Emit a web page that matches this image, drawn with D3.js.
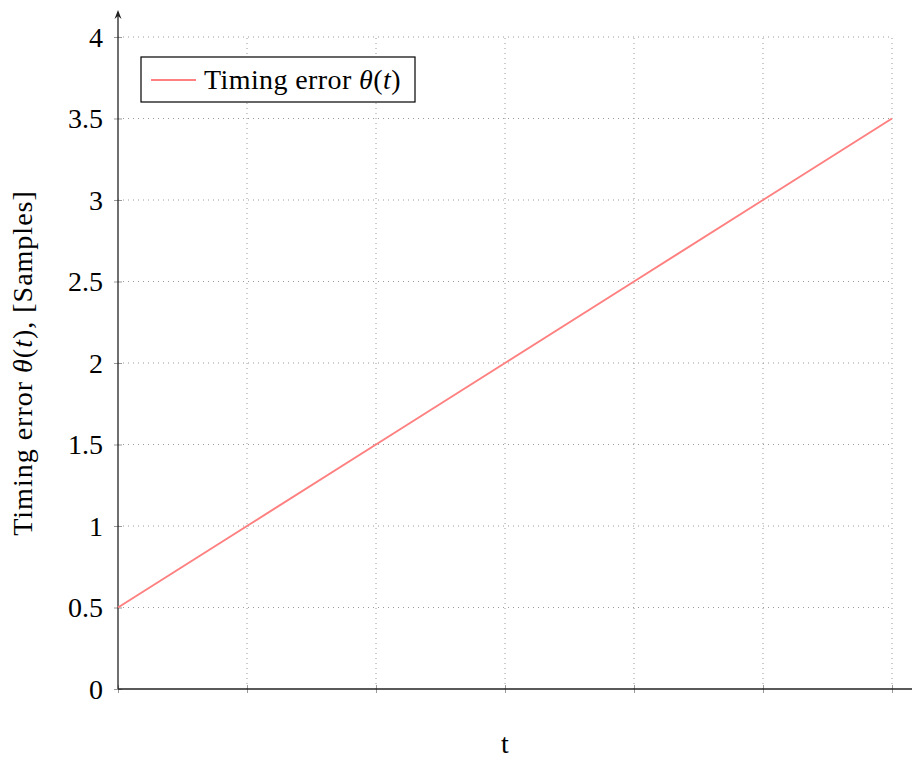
<!DOCTYPE html>
<html>
<head>
<meta charset="utf-8">
<script src="https://cdn.jsdelivr.net/npm/d3@7"></script>
<style>
  html, body { margin: 0; padding: 0; background: #fff; }
  svg text { font-family: "Liberation Serif", "Times New Roman", serif; fill: #000; }
</style>
</head>
<body>
<svg id="chart" width="912" height="760"></svg>
<script>
// Timing error samples over t
const tValues = [0, 1, 2, 3, 4, 5, 6];
const thetaValues = [0.5, 1.0, 1.5, 2.0, 2.5, 3.0, 3.5];
const yTicks = [0, 0.5, 1, 1.5, 2, 2.5, 3, 3.5, 4];
const yTickLabels = ["0", "0.5", "1", "1.5", "2", "2.5", "3", "3.5", "4"];
const seriesName = "Timing error ";

(function () {
const svg = d3.select("#chart");
const plotLeft = 118, plotRight = 892, plotTop = 37, plotBottom = 689;
const fontSize = 28;

const x = d3.scaleLinear().domain([0, 6]).range([plotLeft, plotRight]);
const y = d3.scaleLinear().domain([0, 4]).range([plotBottom, plotTop]);

// Dotted grid
const grid = svg.append("g").attr("stroke", "#9a9a9a").attr("stroke-width", 1)
  .attr("stroke-dasharray", "1,4").attr("fill", "none");
tValues.slice(1).forEach(v => {
  grid.append("line").attr("x1", x(v)).attr("x2", x(v)).attr("y1", plotBottom).attr("y2", plotTop);
});
yTicks.slice(1).forEach(v => {
  grid.append("line").attr("x1", plotLeft).attr("x2", plotRight).attr("y1", y(v)).attr("y2", y(v));
});

// Axes (labels drawn separately)
const xAxis = d3.axisBottom(x).tickValues(tValues).tickSize(4).tickFormat("");
const xg = svg.append("g").attr("transform", `translate(0,${plotBottom})`).call(xAxis);
xg.select(".domain").remove();
xg.selectAll(".tick line").attr("stroke", "#999").attr("y1", -4).attr("y2", 4);

const yAxis = d3.axisLeft(y).tickValues(yTicks).tickSize(4)
  .tickFormat((d, i) => yTickLabels[i]).tickPadding(10);
const yg = svg.append("g").attr("transform", `translate(${plotLeft},0)`).call(yAxis);
yg.select(".domain").remove();
yg.selectAll(".tick line").attr("stroke", "#999").attr("x1", -4).attr("x2", 4);
yg.selectAll(".tick text").attr("font-size", fontSize)
  .attr("dy", "0.33em").attr("x", -15);

// Axis lines
svg.append("line").attr("x1", plotLeft).attr("x2", 912).attr("y1", plotBottom).attr("y2", plotBottom)
  .attr("stroke", "#222").attr("stroke-width", 1.3);
svg.append("line").attr("x1", plotLeft).attr("x2", plotLeft).attr("y1", plotBottom).attr("y2", 12)
  .attr("stroke", "#222").attr("stroke-width", 1.3);
svg.append("path").attr("d", `M${plotLeft - 3.5},19 L${plotLeft},10 L${plotLeft + 3.5},19 L${plotLeft},16 Z`)
  .attr("fill", "#222");

// Series line
const line = d3.line().x((d, i) => x(tValues[i])).y(d => y(d));
svg.append("path").datum(thetaValues).attr("d", line)
  .attr("fill", "none").attr("stroke", "#ff8080").attr("stroke-width", 2);

// Legend
const lg = svg.append("g");
lg.append("rect").attr("x", 141).attr("y", 57).attr("width", 274).attr("height", 45)
  .attr("fill", "#fff").attr("stroke", "#000").attr("stroke-width", 1.2);
lg.append("line").attr("x1", 151).attr("x2", 196).attr("y1", 80).attr("y2", 80)
  .attr("stroke", "#ff8080").attr("stroke-width", 2);
const lt = lg.append("text").attr("x", 204).attr("y", 89).attr("font-size", fontSize)
  .attr("letter-spacing", 0.4);
lt.append("tspan").text(seriesName);
lt.append("tspan").attr("font-style", "italic").text("θ");
lt.append("tspan").text("(");
lt.append("tspan").attr("font-style", "italic").text("t");
lt.append("tspan").text(")");

// Axis titles
svg.append("text").attr("x", x(3)).attr("y", 753).attr("text-anchor", "middle")
  .attr("font-size", fontSize).text("t");

const yt = svg.append("text").attr("transform", `translate(32,${(plotBottom + plotTop) / 2}) rotate(-90)`)
  .attr("text-anchor", "middle").attr("font-size", fontSize).attr("letter-spacing", 1);
yt.append("tspan").text("Timing error ");
yt.append("tspan").attr("font-style", "italic").text("θ");
yt.append("tspan").text("(");
yt.append("tspan").attr("font-style", "italic").text("t");
yt.append("tspan").text("), [Samples]");
})();
</script>
</body>
</html>
